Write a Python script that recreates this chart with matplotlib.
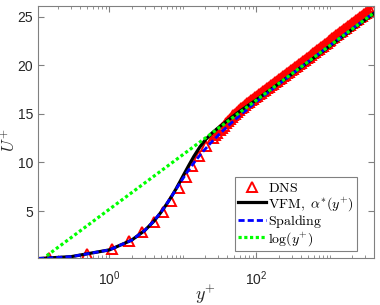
import numpy as np
import matplotlib
matplotlib.use("Agg")
import matplotlib.pyplot as plt
from matplotlib.ticker import LogLocator, NullFormatter, FixedLocator

plt.rcParams['mathtext.fontset'] = 'cm'
plt.rcParams['font.family'] = ['Liberation Sans', 'DejaVu Sans']

# DNS points (y+, U+)
dns_y = [0.152, 0.499, 1.07, 1.84, 2.81, 4.03, 5.34, 6.98, 8.83, 10.98, 13.3, 16.5, 20.6,
         25.6, 27.5, 29.5, 31.5, 33.5, 35.7, 38, 40.4, 43, 45.8, 48.7, 51.8, 55.1, 58.6,
         62.4, 66.4, 70.6, 75.1, 79.9, 85, 90.5, 96.3, 102.4, 109, 116, 123.4, 131.3,
         139.7, 148.6, 158.1, 168.2, 179, 190.5, 202.7, 215.7, 229.5, 244.2, 259.8, 276.4,
         294.1, 312.9, 333, 354, 377, 401, 427, 454, 483, 514, 547, 582, 619, 659, 701,
         746, 794, 845, 899, 957, 1018, 1083, 1152, 1226, 1305, 1388, 1477, 1572, 1672,
         1779, 1893, 2014, 2143, 2281, 2427, 2582, 2747, 2923, 3110, 3309, 3521, 3746, 3970]
dns_u = [0.2, 0.55, 1.08, 1.9, 2.8, 3.85, 4.93, 6.03, 7.34, 8.53, 9.6, 10.7, 11.7,
         12.55, 12.82, 13.08, 13.33, 13.57, 13.8, 14.02, 14.23, 14.44, 14.64, 14.84, 15.03,
         15.22, 15.4, 15.58, 15.75, 15.92, 16.08, 16.24, 16.4, 16.56, 16.72, 16.88, 17.03,
         17.19, 17.34, 17.5, 17.65, 17.81, 17.96, 18.12, 18.27, 18.43, 18.58, 18.74, 18.89,
         19.05, 19.2, 19.36, 19.51, 19.67, 19.82, 19.98, 20.13, 20.29, 20.44, 20.6, 20.75,
         20.91, 21.06, 21.22, 21.37, 21.53, 21.68, 21.84, 21.99, 22.15, 22.3, 22.46, 22.61,
         22.77, 22.92, 23.08, 23.23, 23.39, 23.54, 23.7, 23.85, 24.01, 24.16, 24.32, 24.47,
         24.63, 24.78, 24.94, 25.09, 25.25, 25.4, 25.56, 25.71, 25.87, 26.0]

# VFM curve
vfm_y = [0.1064, 0.3, 1, 2, 3, 4, 5, 6, 7, 8, 9, 10, 12, 14, 17, 20, 25, 30, 40, 60,
         100, 200, 500, 1000, 2000, 3970]
vfm_u = [0.106, 0.3, 1.0, 2.0, 2.98, 3.93, 4.85, 5.72, 6.5, 7.25, 7.95, 8.6, 9.7, 10.6,
         11.6, 12.3, 13.05, 13.55, 14.3, 15.3, 16.45, 18.1, 20.3, 22.0, 23.7, 25.35]

# Spalding curve
spal_y = [0.1064, 0.3, 1.0, 2.003, 3.015, 4.05, 5.14, 6.32, 7.68, 9.31, 11.39, 14.19, 18.11,
          23.76, 32.05, 44.4, 62.9, 90.7, 132.7, 195.9, 435.8, 982.4, 2224, 3945]
spal_u = [0.106, 0.3, 1, 2, 3, 4, 5, 6, 7, 8, 9, 10, 11, 12, 13, 14, 15, 16, 17, 18, 20,
          22, 24, 25.4]

# log law
log_y = [0.14, 3970]
log_u = [0.4, 25.4]

fig = plt.figure(figsize=(3.8, 3.05), dpi=100)
ax = fig.add_axes([0.1, 0.154, 0.884, 0.826])

ax.plot(dns_y, dns_u, '^', color='red', mfc='none', ms=7.5, mew=1.4, label=r'$\mathrm{DNS}$')
ax.plot(vfm_y, vfm_u, '-', color='black', lw=2.3, label=r'$\mathrm{VFM},\ \alpha^{*}(y^{+})$')
ax.plot(spal_y, spal_u, color='blue', lw=2.0, ls=(0, (2.2, 1.1)), label=r'$\mathrm{Spalding}$')
ax.plot(log_y, log_u, color='#00ff00', lw=2.3, ls=(0, (1, 0.8)), label=r'$\log(y^{+})$')

ax.set_xscale('log')
ax.set_xlim(0.1064, 3970)
ax.set_ylim(0.16, 26.1)
ax.xaxis.set_major_locator(FixedLocator([1, 100]))
ax.xaxis.set_minor_locator(LogLocator(base=10, subs=np.arange(1, 10), numticks=20))
ax.xaxis.set_minor_formatter(NullFormatter())
ax.set_yticks([5, 10, 15, 20, 25])

for s in ax.spines.values():
    s.set_color('0.5')
    s.set_linewidth(0.8)
ax.tick_params(which='both', direction='in', top=True, right=True, colors='0.5',
               labelcolor='0.15', labelsize=10)
ax.tick_params(which='major', length=4)
ax.tick_params(which='minor', length=2)
ax.tick_params(axis='x', pad=8)

ax.set_xlabel(r'$y^{+}$', fontsize=13, color='0.15', va='top')
ax.xaxis.set_label_coords(0.5, -0.1)
ax.set_ylabel(r'$U^{+}$', fontsize=12, color='0.15')
ax.yaxis.set_label_coords(-0.06, 0.47)

leg = ax.legend(loc='lower right', bbox_to_anchor=(0.95, 0.028), fontsize=10,
                frameon=True, fancybox=False, edgecolor='0.5', framealpha=1,
                handlelength=2.0, handletextpad=0.15, labelspacing=0.0, borderpad=0.25,
                borderaxespad=0)
leg.get_frame().set_linewidth(0.8)

fig.savefig('out.png', dpi=100)
